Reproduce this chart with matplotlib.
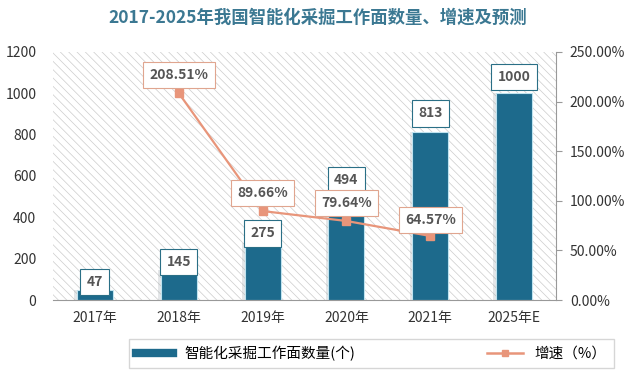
import matplotlib.pyplot as plt
from matplotlib.lines import Line2D

plt.rcParams['font.family'] = ['Noto Sans CJK SC', 'DejaVu Sans']
plt.rcParams['hatch.linewidth'] = 0.5
plt.rcParams['hatch.color'] = '#cccccc'

years = ['2017年', '2018年', '2019年', '2020年', '2021年', '2025年E']
counts = [47, 145, 275, 494, 813, 1000]
growth_years = [1, 2, 3, 4]
growth = [208.51, 89.66, 79.64, 64.57]

bar_color = '#1d6a8c'
line_color = '#e8957a'
text_grey = '#555555'

fig = plt.figure(figsize=(6.35, 3.76), dpi=100)
ax = fig.add_axes([0.0835, 0.202, 0.792, 0.66])
x = list(range(len(years)))

# striped background
ax.add_patch(plt.Rectangle((0, 0), 1, 1, transform=ax.transAxes, facecolor='white',
                           edgecolor='#cccccc', hatch='\\\\\\\\', linewidth=0, zorder=0))

# soft shadow on bars
ax.bar([i - 0.03 for i in x], counts, width=0.43, color='#9aa3a8', alpha=0.25, zorder=1)
ax.bar(x, counts, width=0.43, color=bar_color, edgecolor='#bfe3ef', linewidth=0.8, zorder=2)

ax.set_ylim(0, 1200)
ax.set_xlim(-0.5, 5.5)
ax.set_yticks(range(0, 1201, 200))
ax.set_xticks(x)
ax.set_xticklabels(years)
ax.tick_params(axis='y', length=0, labelsize=10, colors='#333333', pad=12)
ax.tick_params(axis='x', length=0, labelsize=10, colors='#333333', pad=8)
for s in ['top', 'right', 'left']:
    ax.spines[s].set_visible(False)
ax.spines['bottom'].set_color('#999999')

bar_offsets = [40, 40, 48, 85, 90, 78]
for i, c in enumerate(counts):
    ax.text(i, c + bar_offsets[i], str(c), ha='center', va='center', fontsize=10,
            fontweight='bold', color=text_grey, zorder=6,
            bbox=dict(boxstyle='square,pad=0.45', facecolor='white',
                      edgecolor='#2a6f86', linewidth=0.8))

ax2 = ax.twinx()
ax2.plot(growth_years, growth, color=line_color, linewidth=1.6, marker='s',
         markersize=6, zorder=5)
ax2.set_ylim(0, 250)
ax2.set_yticks(range(0, 251, 50))
ax2.set_yticklabels([f'{v:.2f}%' for v in range(0, 251, 50)])
ax2.tick_params(axis='y', length=4, color='#999999', labelsize=10, colors='#333333', pad=6)
for s in ['top', 'left', 'bottom']:
    ax2.spines[s].set_visible(False)
ax2.spines['right'].set_color('#999999')

growth_offsets = [18, 18, 18, 16]
for gx, g, off in zip(growth_years, growth, growth_offsets):
    ax2.text(gx, g + off, f'{g:.2f}%', ha='center', va='center', fontsize=10,
             fontweight='bold', color=text_grey, zorder=7,
             bbox=dict(boxstyle='square,pad=0.45', facecolor='white',
                       edgecolor='#e0a58f', linewidth=0.8))

fig.text(0.5, 0.952, '2017-2025年我国智能化采掘工作面数量、增速及预测', ha='center', va='center',
         fontsize=12.5, fontweight='bold', color='#3b7892')

handles = [Line2D([], [], color=bar_color, linewidth=6),
           Line2D([], [], color=line_color, marker='s', markersize=5, linewidth=1.8)]
fig.legend(handles, ['智能化采掘工作面数量(个)', '增速（%）'], loc='center',
           bbox_to_anchor=(0.585, 0.06), ncol=2, frameon=True, fontsize=10.5,
           edgecolor='#cccccc', fancybox=False, columnspacing=9, handlelength=2.5,
           borderpad=0.5, borderaxespad=0)

fig.savefig('out.png', dpi=100)
